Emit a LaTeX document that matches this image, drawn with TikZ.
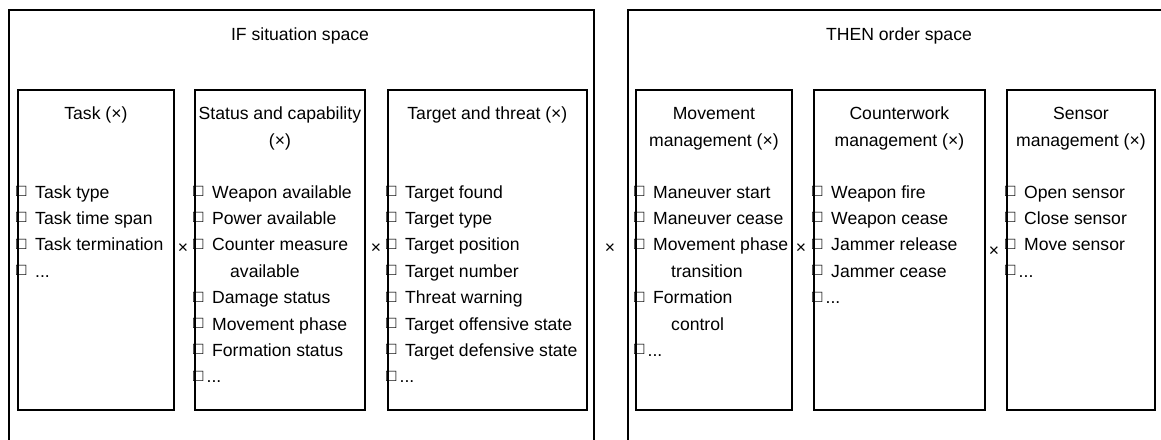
\documentclass[tikz,border=0pt]{standalone}
\usepackage{fontspec}
\setmainfont{Liberation Sans}
% hollow check box in front of each list entry
\newcommand\boxmark{\raisebox{1.6pt}{\fontsize{17}{17}\selectfont □}}
\newcommand\tdots{...}
\newcommand\itm{\makebox[19pt][l]{\boxmark}}
\newcommand\itmdots{\makebox[13.5pt][l]{\boxmark}\tdots}
\newcommand\cont{\hspace*{37pt}}
\begin{document}
\begin{tikzpicture}[x=1pt,y=-1pt,
  every node/.style={inner sep=0pt, font=\fontsize{17.6}{26.4}\selectfont},
  panel/.style={draw, line width=1.5pt, anchor=north west, minimum height=470pt},
  group/.style={draw, line width=1.8pt, anchor=north west, minimum height=320pt},
  title/.style={anchor=base},
  item/.style={anchor=base west},
  cross/.style={anchor=center}]
\useasboundingbox (0,0) rectangle (1161,439);
\clip (0,0) rectangle (1161,439);

% the two spaces
\node[panel, minimum width=585pt] (ifspace) at (8,9) {};
\node[panel, minimum width=560pt] (thenspace) at (627,9) {};
\node[title] (iftitle) at (300,40) {IF situation space};
\node[title] (thentitle) at (899,40) {THEN order space};

% situation groups
\node[group, minimum width=156pt] (task) at (17,89) {};
\node[group, minimum width=170pt] (status) at (194,89) {};
\node[group, minimum width=199pt] (target) at (387,89) {};
% order groups
\node[group, minimum width=156pt] (move) at (635,89) {};
\node[group, minimum width=171pt] (counter) at (813,89) {};
\node[group, minimum width=148pt] (sensor) at (1006,89) {};

% group titles
\node[title] (task-t1) at (task.north |- 0,119) {Task (×)};
\node[title] (status-t1) at (status.north |- 0,119) {Status and capability};
\node[title] (status-t2) at (status.north |- 0,146) {(×)};
\node[title] (target-t1) at (target.north |- 0,119) {Target and threat (×)};
\node[title] (move-t1) at (move.north |- 0,119) {Movement};
\node[title] (move-t2) at (move.north |- 0,146) {management (×)};
\node[title] (counter-t1) at (counter.north |- 0,119) {Counterwork};
\node[title] (counter-t2) at (counter.north |- 0,146) {management (×)};
\node[title] (sensor-t1) at (sensor.north |- 0,119) {Sensor};
\node[title] (sensor-t2) at (sensor.north |- 0,146) {management (×)};

% entries
\foreach \t [count=\i] in {\itm Task type, \itm Task time span, \itm Task termination, \itm\tdots}
  \node[item] (task-\i) at (16,{198+26.4*(\i-1)}) {\t};
\foreach \t [count=\i] in {\itm Weapon available, \itm Power available, \itm Counter measure,
    \cont available, \itm Damage status, \itm Movement phase, \itm Formation status, \itmdots}
  \node[item] (status-\i) at (193,{198+26.4*(\i-1)}) {\t};
\foreach \t [count=\i] in {\itm Target found, \itm Target type, \itm Target position,
    \itm Target number, \itm Threat warning, \itm Target offensive state,
    \itm Target defensive state, \itmdots}
  \node[item] (target-\i) at (386,{198+26.4*(\i-1)}) {\t};
\foreach \t [count=\i] in {\itm Maneuver start, \itm Maneuver cease, \itm Movement phase,
    \cont transition, \itm Formation, \cont control, \itmdots}
  \node[item] (move-\i) at (634,{198+26.4*(\i-1)}) {\t};
\foreach \t [count=\i] in {\itm Weapon fire, \itm Weapon cease, \itm Jammer release,
    \itm Jammer cease, \itmdots}
  \node[item] (counter-\i) at (812,{198+26.4*(\i-1)}) {\t};
\foreach \t [count=\i] in {\itm Open sensor, \itm Close sensor, \itm Move sensor, \itmdots}
  \node[item] (sensor-\i) at (1005,{198+26.4*(\i-1)}) {\t};

% product signs between groups
\node[cross] (x1) at (183,249) {×};
\node[cross] (x2) at (376,249) {×};
\node[cross] (x3) at (610,249) {×};
\node[cross] (x4) at (801,249) {×};
\node[cross] (x5) at (994,252) {×};
\end{tikzpicture}
\end{document}
